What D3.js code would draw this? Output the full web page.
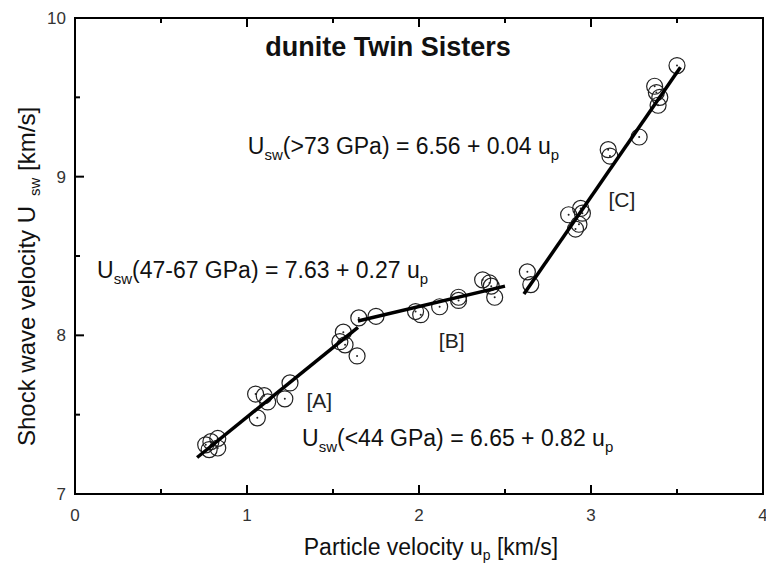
<!DOCTYPE html>
<html>
<head>
<meta charset="utf-8">
<script src="https://cdn.jsdelivr.net/npm/d3@7"></script>
<style>
	body { margin: 0; background: #fff; }
	text { font-family: "Liberation Sans", Arial, sans-serif; fill: #111; }
	.frame { fill: none; stroke: #000; stroke-width: 2; }
	.tick line { stroke: #000; stroke-width: 2; }
	.fit { stroke: #000; stroke-width: 3.5; stroke-linecap: butt; }
	.pt { fill: none; stroke: #222; stroke-width: 1.2; }
	.dot { fill: #222; }
</style>
</head>
<body>
<svg id="chart" width="766" height="564"></svg>
<script>
/*
** Shock wave velocity versus particle velocity, dunite Twin Sisters.
*/

// measured points, particle velocity up [km/s] and shock velocity Usw [km/s]
var upPoints = [0.76, 0.79, 0.78, 0.83, 0.83, 1.05, 1.10, 1.12, 1.06, 1.22, 1.25,
	1.56, 1.54, 1.57, 1.64, 1.65, 1.75,
	1.98, 2.01, 2.12, 2.23, 2.23, 2.37, 2.41, 2.44, 2.42,
	2.63, 2.65, 2.87, 2.95, 2.94, 2.93, 2.91,
	3.50, 3.37, 3.38, 3.40, 3.39, 3.28, 3.10, 3.11];
var usPoints = [7.31, 7.33, 7.28, 7.35, 7.29, 7.63, 7.62, 7.58, 7.48, 7.60, 7.70,
	8.02, 7.96, 7.94, 7.87, 8.11, 8.12,
	8.15, 8.13, 8.18, 8.24, 8.22, 8.35, 8.33, 8.24, 8.31,
	8.40, 8.32, 8.76, 8.77, 8.80, 8.70, 8.67,
	9.70, 9.57, 9.53, 9.50, 9.45, 9.25, 9.17, 9.13];

// fitted segments [A], [B], [C]: start and end of each
var fitNames = ["[A]", "[B]", "[C]"];
var fitUp = [[0.71, 1.645], [1.645, 2.50], [2.61, 3.52]];
var fitUs = [[7.23, 8.05], [8.09, 8.31], [8.26, 9.69]];
var fitLabelUp = [1.42, 2.19, 3.18];
var fitLabelUs = [7.54, 7.92, 8.81];

// equations written on the plot
var eqRange = [">73 GPa", "47-67 GPa", "<44 GPa"];
var eqText = [") = 6.56 + 0.04 u", ") = 7.63 + 0.27 u", ") = 6.65 + 0.82 u"];
var eqUp = [1.005, 0.128, 1.32];
var eqUs = [9.14, 8.36, 7.30];

var xTicks = [0, 1, 2, 3, 4];
var yTicks = [7, 8, 9, 10];

var svg = d3.select("#chart");
var x = d3.scaleLinear().domain([0, 4]).range([75, 763]);
var y = d3.scaleLinear().domain([7, 10]).range([494, 18]);

// ticks inside the frame, half-unit minor ticks
var xMinor = d3.range(0, 4.01, 0.5);
var yMinor = d3.range(7, 10.01, 0.5);

svg.append("g")
	.attr("class", "tick")
	.selectAll("line.xb")
	.data(xMinor)
	.enter()
	.append("line")
		.attr("x1", function(d) {return x(d);})
		.attr("x2", function(d) {return x(d);})
		.attr("y1", y(7))
		.attr("y2", function(d) {return y(7) - (d % 1 == 0 ? 9 : 5);});

svg.append("g")
	.attr("class", "tick")
	.selectAll("line.xt")
	.data(xMinor)
	.enter()
	.append("line")
		.attr("x1", function(d) {return x(d);})
		.attr("x2", function(d) {return x(d);})
		.attr("y1", y(10))
		.attr("y2", function(d) {return y(10) + (d % 1 == 0 ? 9 : 5);});

svg.append("g")
	.attr("class", "tick")
	.selectAll("line.yl")
	.data(yMinor)
	.enter()
	.append("line")
		.attr("x1", x(0))
		.attr("x2", function(d) {return x(0) + (d % 1 == 0 ? 9 : 5);})
		.attr("y1", function(d) {return y(d);})
		.attr("y2", function(d) {return y(d);});

svg.append("rect")
	.attr("class", "frame")
	.attr("x", x(0))
	.attr("y", y(10))
	.attr("width", x(4) - x(0))
	.attr("height", y(7) - y(10));

// tick labels
svg.selectAll("text.xl")
	.data(xTicks)
	.enter()
	.append("text")
		.attr("class", "xl")
		.attr("x", function(d) {return x(d);})
		.attr("y", y(7) + 27)
		.attr("text-anchor", "middle")
		.style("font-size", "17px")
		.style("fill", "#333")
		.text(function(d) {return d;});

svg.selectAll("text.yl")
	.data(yTicks)
	.enter()
	.append("text")
		.attr("class", "yl")
		.attr("x", x(0) - 9)
		.attr("y", function(d) {return y(d) + 6;})
		.attr("text-anchor", "end")
		.style("font-size", "17px")
		.style("fill", "#333")
		.text(function(d) {return d;});

// axis titles
var xTitle = svg.append("text")
	.attr("x", 431)
	.attr("y", 555)
	.attr("text-anchor", "middle")
	.style("font-size", "23px");
xTitle.append("tspan").text("Particle velocity u");
xTitle.append("tspan").attr("dy", 5).style("font-size", "14px").text("p");
xTitle.append("tspan").attr("dy", -5).text(" [km/s]");

// the y title is started from its bottom end
var yTitle = svg.append("text")
	.attr("transform", "translate(35,446) rotate(-90)")
	.attr("text-anchor", "start")
	.style("font-size", "24px");
yTitle.append("tspan").text("Shock wave velocity U");
yTitle.append("tspan").attr("dx", 10).attr("dy", 5).style("font-size", "15px").text("sw");
yTitle.append("tspan").attr("dy", -5).text(" [km/s]");

svg.append("text")
	.attr("x", 388)
	.attr("y", 56)
	.attr("text-anchor", "middle")
	.style("font-size", "27px")
	.style("font-weight", "bold")
	.text("dunite Twin Sisters");

// data circles
var pts = svg.append("g")
	.selectAll("g.p")
	.data(d3.range(upPoints.length))
	.enter()
	.append("g");

pts.append("circle")
	.attr("class", "pt")
	.attr("cx", function(i) {return x(upPoints[i]);})
	.attr("cy", function(i) {return y(usPoints[i]);})
	.attr("r", 8);

pts.append("circle")
	.attr("class", "dot")
	.attr("cx", function(i) {return x(upPoints[i]);})
	.attr("cy", function(i) {return y(usPoints[i]);})
	.attr("r", 1);

// fit lines
svg.selectAll("line.fit")
	.data(d3.range(fitNames.length))
	.enter()
	.append("line")
		.attr("class", "fit")
		.attr("x1", function(i) {return x(fitUp[i][0]);})
		.attr("y1", function(i) {return y(fitUs[i][0]);})
		.attr("x2", function(i) {return x(fitUp[i][1]);})
		.attr("y2", function(i) {return y(fitUs[i][1]);});

svg.selectAll("text.fl")
	.data(d3.range(fitNames.length))
	.enter()
	.append("text")
		.attr("x", function(i) {return x(fitLabelUp[i]);})
		.attr("y", function(i) {return y(fitLabelUs[i]);})
		.attr("text-anchor", "middle")
		.style("font-size", "21px")
		.style("fill", "#222")
		.text(function(i) {return fitNames[i];});

// equations
var eq = svg.selectAll("text.eq")
	.data(d3.range(eqRange.length))
	.enter()
	.append("text")
		.attr("x", function(i) {return x(eqUp[i]);})
		.attr("y", function(i) {return y(eqUs[i]);})
		.style("font-size", "23px");

eq.append("tspan").text("U");
eq.append("tspan").attr("dy", 6).style("font-size", "15px").text("sw");
eq.append("tspan").attr("dy", -6).text(function(i) {return "(" + eqRange[i] + eqText[i];});
eq.append("tspan").attr("dy", 6).style("font-size", "15px").text("p");
</script>
</body>
</html>
